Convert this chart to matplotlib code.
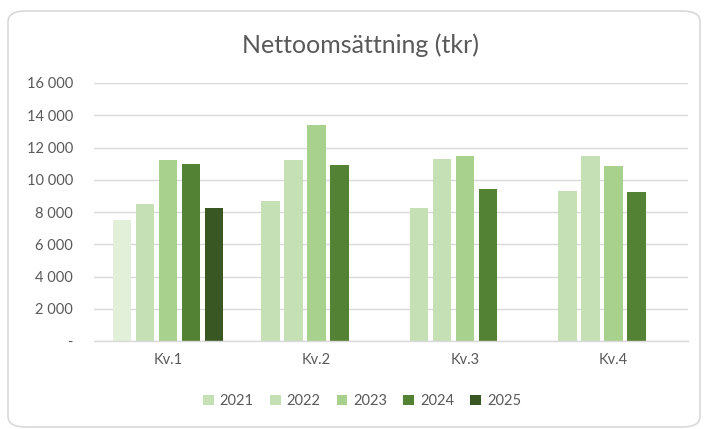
import matplotlib.pyplot as plt
from matplotlib.patches import FancyBboxPatch, Patch
from matplotlib.ticker import FuncFormatter
import numpy as np

quarters = ['Kv.1', 'Kv.2', 'Kv.3', 'Kv.4']
years = ['2021', '2022', '2023', '2024', '2025']
values = {
    '2021': [7500, 8680, 8250, 9320],
    '2022': [8500, 11200, 11290, 11470],
    '2023': [11200, 13380, 11470, 10830],
    '2024': [10960, 10940, 9410, 9220],
    '2025': [8230, None, None, None],
}
colors = ['#C5E0B4', '#C5E0B4', '#A9D18E', '#548235', '#385723']
kv1_2021_color = '#E2F0D9'

plt.rcParams['font.family'] = ['Lato', 'DejaVu Sans']
txt = '#595959'

fig = plt.figure(figsize=(7.04, 4.29), dpi=100)
border = FancyBboxPatch((8 / 704, 2 / 429), 692 / 704, 416 / 429,
                        boxstyle='round,pad=0,rounding_size=0.025',
                        transform=fig.transFigure, facecolor='white',
                        edgecolor='#D9D9D9', linewidth=1.2, zorder=-10)
fig.patches.append(border)

ax = fig.add_axes([93.75 / 704, 88 / 429, 594 / 704, 258 / 429])
ax.set_facecolor('none')

x = np.arange(len(quarters))
slot = 23 / 148.5
width = 18.5 / 148.5
for i, yr in enumerate(years):
    vals = values[yr]
    xs = [x[j] + (i - 2) * slot for j in range(4) if vals[j] is not None]
    vs = [v for v in vals if v is not None]
    bars = ax.bar(xs, vs, width=width, color=colors[i], zorder=3)
    if yr == '2021':
        bars[0].set_facecolor(kv1_2021_color)

ax.set_xlim(-0.5, 3.5)
ax.set_ylim(0, 16000)
ax.set_yticks(np.arange(0, 16001, 2000))
ax.yaxis.set_major_formatter(FuncFormatter(
    lambda v, p: '-' if v == 0 else f'{int(v):,}'.replace(',', ' ')))
ax.set_xticks(x)
ax.set_xticklabels(quarters)
ax.grid(axis='y', color='#D9D9D9', linewidth=1, zorder=0)
for s in ['top', 'right', 'left']:
    ax.spines[s].set_visible(False)
ax.spines['bottom'].set_color('#D9D9D9')
ax.spines['bottom'].set_linewidth(1)
ax.spines['bottom'].set_zorder(4)
ax.tick_params(axis='both', length=0, colors=txt, labelsize=10.5)
ax.tick_params(axis='x', pad=9)
ax.tick_params(axis='y', pad=15)

fig.text(360 / 704, 1 - 45 / 429, 'Nettoomsättning (tkr)', ha='center',
         va='center', fontsize=18, color=txt)

handles = [Patch(facecolor=c, edgecolor='none') for c in colors]
fig.legend(handles, years, loc='center', bbox_to_anchor=(362 / 704, 1 - 401 / 429),
           ncol=5, frameon=False, fontsize=10.5, labelcolor=txt,
           handlelength=0.75, handleheight=0.75, handletextpad=0.4,
           columnspacing=1.1)

fig.savefig('out.png', dpi=100)
